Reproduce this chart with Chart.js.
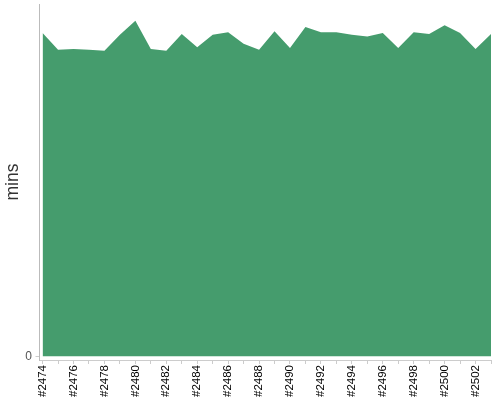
<!DOCTYPE html>
<html>
<head>
<meta charset="utf-8">
<script src="https://cdn.jsdelivr.net/npm/chart.js@4.4.1/dist/chart.umd.min.js"></script>
<style>
  html, body { margin: 0; padding: 0; background: #fff; }
  #box { width: 500px; height: 400px; }
</style>
</head>
<body>
<div id="box"><canvas id="grafico"></canvas></div>
<script>
// builds #2474 .. #2503
var builds = ['#2474','#2475','#2476','#2477','#2478','#2479','#2480','#2481','#2482','#2483',
              '#2484','#2485','#2486','#2487','#2488','#2489','#2490','#2491','#2492','#2493',
              '#2494','#2495','#2496','#2497','#2498','#2499','#2500','#2501','#2502','#2503']

// build duration (mins)
var minutos = [36.7, 34.8, 34.9, 34.8, 34.7, 36.5, 38.1, 34.9, 34.7, 36.6,
               35.1, 36.5, 36.8, 35.5, 34.8, 36.9, 35.0, 37.4, 36.8, 36.8,
               36.5, 36.3, 36.7, 35.0, 36.8, 36.6, 37.6, 36.7, 34.9, 36.6]

var yTicks = [0]

var pontos = minutos.map(function (v, i) { return { x: i, y: v } })

const ctx = document.getElementById('grafico')

let grafico = new Chart(ctx, {
  type: 'line',
  data: {
    datasets: [{
      label: 'mins',
      data: pontos,
      backgroundColor: 'rgb(69,156,109)',
      borderWidth: 0,
      pointRadius: 0,
      fill: 'origin',
      tension: 0
    }]
  },
  options: {
    responsive: true,
    maintainAspectRatio: false,
    animation: false,
    layout: { padding: { top: 4, right: 9, left: 0, bottom: 2 } },
    plugins: { legend: { display: false }, tooltip: { enabled: false } },
    scales: {
      x: {
        type: 'linear',
        min: -0.2,
        max: builds.length - 1,
        afterBuildTicks: function (scale) {
          scale.ticks = builds.map(function (b, i) { return { value: i } })
        },
        afterFit: function (scale) { scale.paddingRight = 0; scale.paddingLeft = 0 },
        ticks: {
          autoSkip: false,
          minRotation: 90,
          maxRotation: 90,
          color: '#000',
          padding: 1,
          font: { size: 11.5, family: 'Liberation Sans, Arial, sans-serif' },
          callback: function (v) { return v % 2 === 0 ? builds[v] : '' }
        },
        grid: { drawOnChartArea: false, color: '#ccc', tickLength: 4 },
        border: { color: '#ccc' }
      },
      y: {
        min: -0.42,
        max: 40,
        afterBuildTicks: function (scale) {
          scale.ticks = yTicks.map(function (v) { return { value: v } })
        },
        afterFit: function (scale) { scale.width = 39.5; scale.paddingTop = 0; scale.paddingBottom = 0 },
        ticks: {
          color: '#555',
          padding: 3.5,
          font: { size: 12, family: 'Liberation Sans, Arial, sans-serif' }
        },
        grid: { drawOnChartArea: false, color: '#ccc', tickLength: 4 },
        border: { color: '#bbb' },
        title: {
          display: true,
          text: 'mins',
          color: '#333',
          padding: { top: 2.5, bottom: 2 },
          font: { size: 17.5, family: 'Liberation Sans, Arial, sans-serif' }
        }
      }
    }
  }
})
</script>
</body>
</html>
